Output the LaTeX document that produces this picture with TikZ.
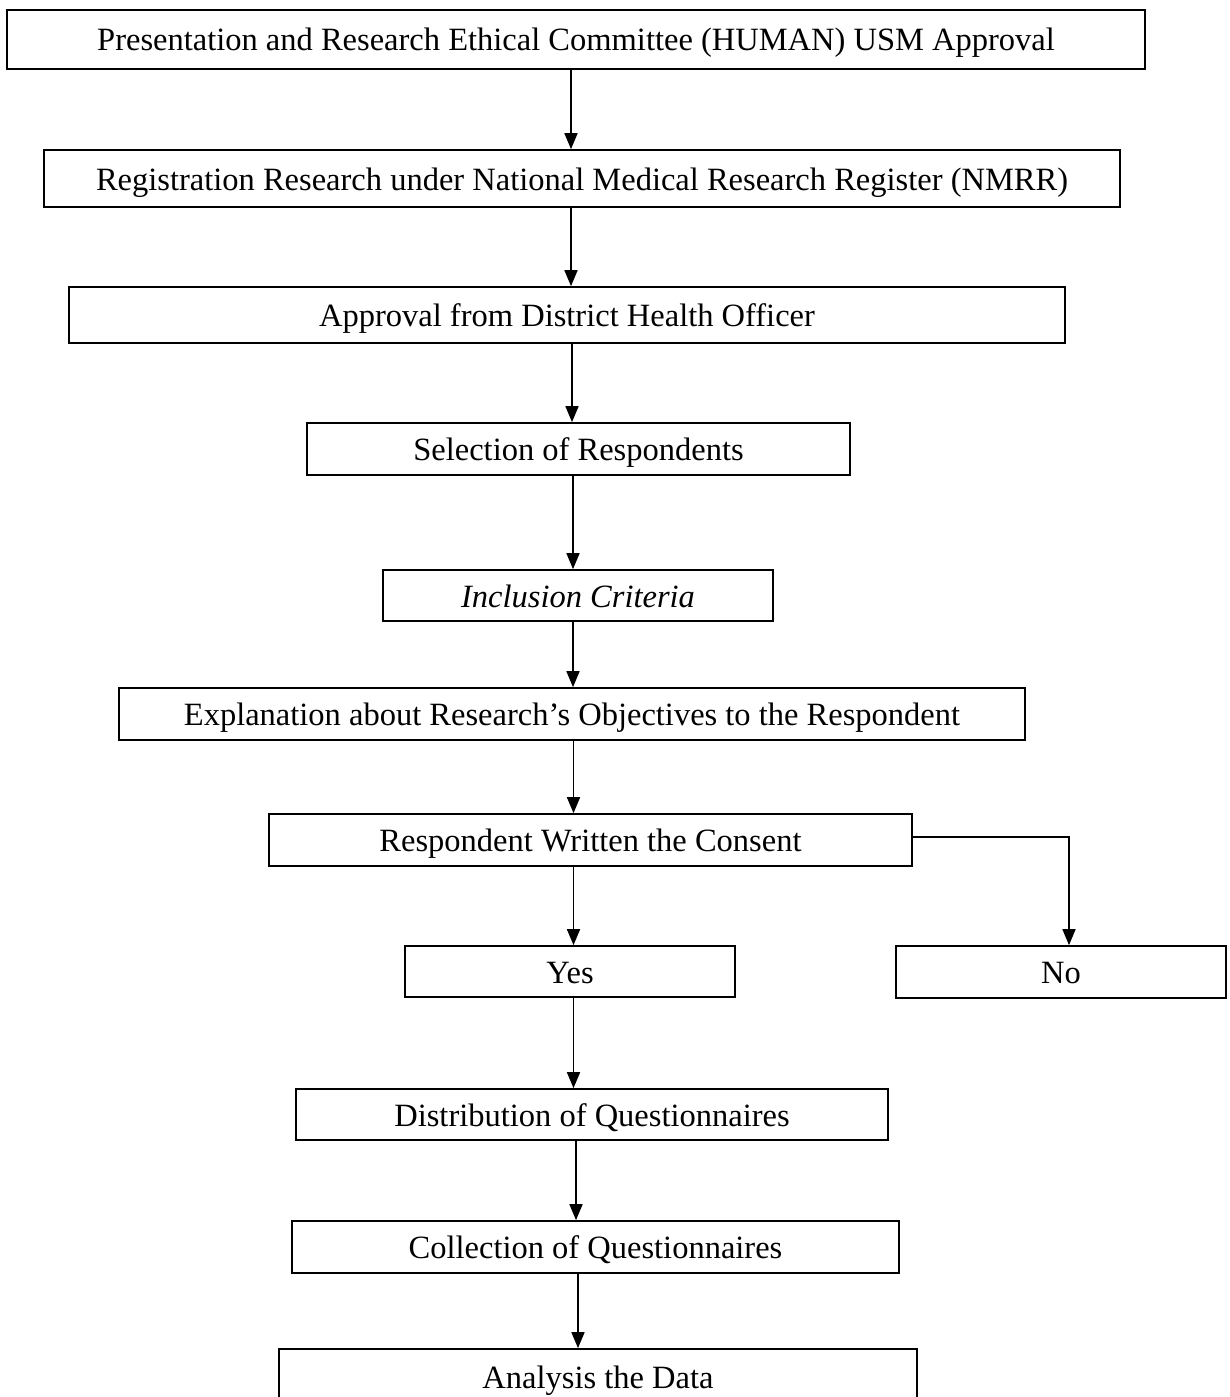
\documentclass[tikz,border=0pt]{standalone}
\usepackage{fontspec}
\setmainfont{Liberation Serif}
\usetikzlibrary{arrows.meta,calc}
\begin{document}
\begin{tikzpicture}[x=1pt,y=-1pt,
  box/.style={draw=black, line width=1.7pt, inner sep=0pt, fill=white,
    font=\fontsize{32.5}{39}\selectfont, text height=28pt, text depth=5pt, align=center},
  arr/.style={draw=black, line width=1.7pt, -{Triangle[width=13pt,length=16pt]}}]
\useasboundingbox (0,0) rectangle (1230,1397);
\fill[white] (0,0) rectangle (1230,1397);
\node[box, minimum width=1138pt, minimum height=59pt] (b1) at (576,39.5) {Presentation and Research Ethical Committee (HUMAN) USM Approval};
\node[box, minimum width=1076pt, minimum height=57pt] (b2) at (582,178.5) {Registration Research under National Medical Research Register (NMRR)};
\node[box, minimum width=996pt, minimum height=56pt] (b3) at (567,315) {Approval from District Health Officer};
\node[box, minimum width=543pt, minimum height=52pt] (b4) at (578.5,449) {Selection of Respondents};
\node[box, minimum width=390pt, minimum height=51pt] (b5) at (578,595.5) {\itshape Inclusion Criteria};
\node[box, minimum width=906pt, minimum height=52pt] (b6) at (572,714) {Explanation about Research’s Objectives to the Respondent};
\node[box, minimum width=643pt, minimum height=52pt] (b7) at (590.5,840) {Respondent Written the Consent};
\node[box, minimum width=330pt, minimum height=51pt] (yes) at (570,971.5) {Yes};
\node[box, minimum width=330pt, minimum height=52pt] (no) at (1061,972) {No};
\node[box, minimum width=592pt, minimum height=51pt] (b10) at (592,1114.5) {Distribution of Questionnaires};
\node[box, minimum width=607pt, minimum height=52pt] (b11) at (595.5,1247) {Collection of Questionnaires};
\node[box, minimum width=638pt, minimum height=56pt] (b12) at (598,1377) {Analysis the Data};
\draw[arr] ($(b1.south)+(-5,0)$) -- ($(b2.north)+(-11,0)$);
\draw[arr] ($(b2.south)+(-11,0)$) -- ($(b3.north)+(4,0)$);
\draw[arr] ($(b3.south)+(5,0)$) -- ($(b4.north)+(-6.5,0)$);
\draw[arr] ($(b4.south)+(-5.5,0)$) -- ($(b5.north)+(-5,0)$);
\draw[arr] ($(b5.south)+(-5,0)$) -- ($(b6.north)+(1,0)$);
\draw[arr] ($(b6.south)+(1.5,0)$) -- ($(b7.north)+(-17,0)$);
\draw[arr] ($(b7.south)+(-17,0)$) -- ($(yes.north)+(3.5,0)$);
\draw[arr] ($(yes.south)+(3.5,0)$) -- ($(b10.north)+(-18.5,0)$);
\draw[arr] ($(b10.south)+(-16,0)$) -- ($(b11.north)+(-19.5,0)$);
\draw[arr] ($(b11.south)+(-17.5,0)$) -- ($(b12.north)+(-20,0)$);
\draw[arr] ($(b7.east)+(0,-3)$) -| ($(no.north)+(8,0)$);
\end{tikzpicture}
\end{document}
